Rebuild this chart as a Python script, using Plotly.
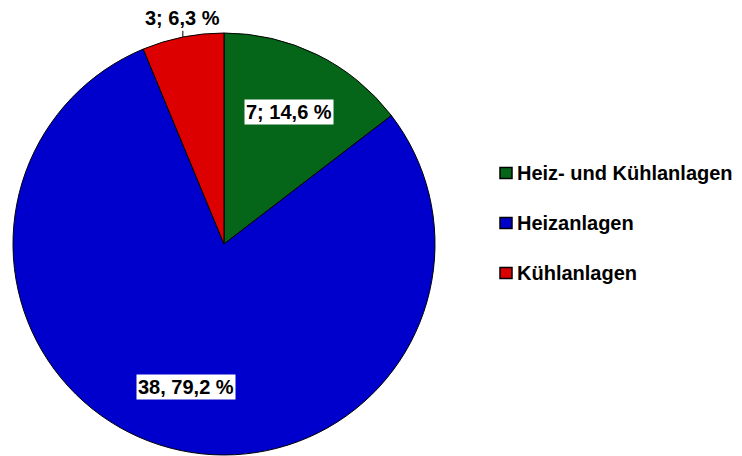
import math
import plotly.graph_objects as go

labels = ["Heiz- und Kühlanlagen", "Heizanlagen", "Kühlanlagen"]
values = [7, 38, 3]
slice_text = ["7; 14,6 %", "38, 79,2 %", "3; 6,3 %"]
colors = ["#05661A", "#0000CC", "#DD0000"]

W, H = 742, 456
cx, cy, R = 224, 244, 211  # pie centre / radius in px

fig = go.Figure(go.Pie(
    labels=labels, values=values, sort=False, direction="clockwise", rotation=0,
    marker=dict(colors=colors, line=dict(color="black", width=1)),
    textinfo="none", showlegend=False, hoverinfo="label+value+percent",
    domain=dict(x=[(cx - R) / W, (cx + R) / W], y=[(H - cy - R) / H, (H - cy + R) / H]),
))

font = dict(family="Liberation Sans, Arial, sans-serif", size=20, color="black")
total = sum(values)
start = 0.0
annotations = []
for v, t in zip(values, slice_text):
    frac = v / total
    mid = (start + frac / 2) * 2 * math.pi
    start += frac
    if frac > 0.1:
        rr = 0.7 * R
        px = cx + rr * math.sin(mid)
        py = cy - rr * math.cos(mid)
        annotations.append(dict(x=px / W, y=1 - py / H, xref="paper", yref="paper",
                                text=f"<b>{t}</b>", showarrow=False, font=font,
                                xanchor="center", yanchor="middle",
                                bgcolor="white", borderpad=1))
    else:
        # outside label with short leader line
        r1, r2 = 1.0 * R, 1.03 * R
        x1, y1 = cx + r1 * math.sin(mid), cy - r1 * math.cos(mid)
        x2 = x1
        y2 = cy - r2 * math.cos(mid)
        annotations.append(dict(x=x2 / W, y=1 - y2 / H, xref="paper", yref="paper",
                                text=f"<b>{t}</b>", showarrow=False, font=font,
                                yanchor="bottom", xanchor="center"))
        fig.add_shape(type="line", xref="paper", yref="paper",
                      x0=x1 / W, y0=1 - y1 / H, x1=x2 / W, y1=1 - y2 / H,
                      line=dict(color="black", width=1))

# legend drawn manually
leg_x, leg_y0, leg_dy = 500, 173, 50
for i, (lab, col) in enumerate(zip(labels, colors)):
    yc = leg_y0 + i * leg_dy
    fig.add_shape(type="rect", xref="paper", yref="paper",
                  x0=leg_x / W, x1=(leg_x + 12) / W,
                  y0=1 - (yc + 5.5) / H, y1=1 - (yc - 5.5) / H,
                  fillcolor=col, line=dict(color="black", width=1.5))
    annotations.append(dict(x=(leg_x + 15) / W, y=1 - yc / H, xref="paper", yref="paper",
                            text=f"<b>{lab}</b>", showarrow=False, font=font,
                            xanchor="left", yanchor="middle"))

fig.update_layout(width=W, height=H, margin=dict(l=0, r=0, t=0, b=0),
                  paper_bgcolor="white", plot_bgcolor="white",
                  annotations=annotations)
fig.write_html("out.html", config={"displayModeBar": False},
               post_script="document.body.style.margin='0';document.body.style.padding='0';")
